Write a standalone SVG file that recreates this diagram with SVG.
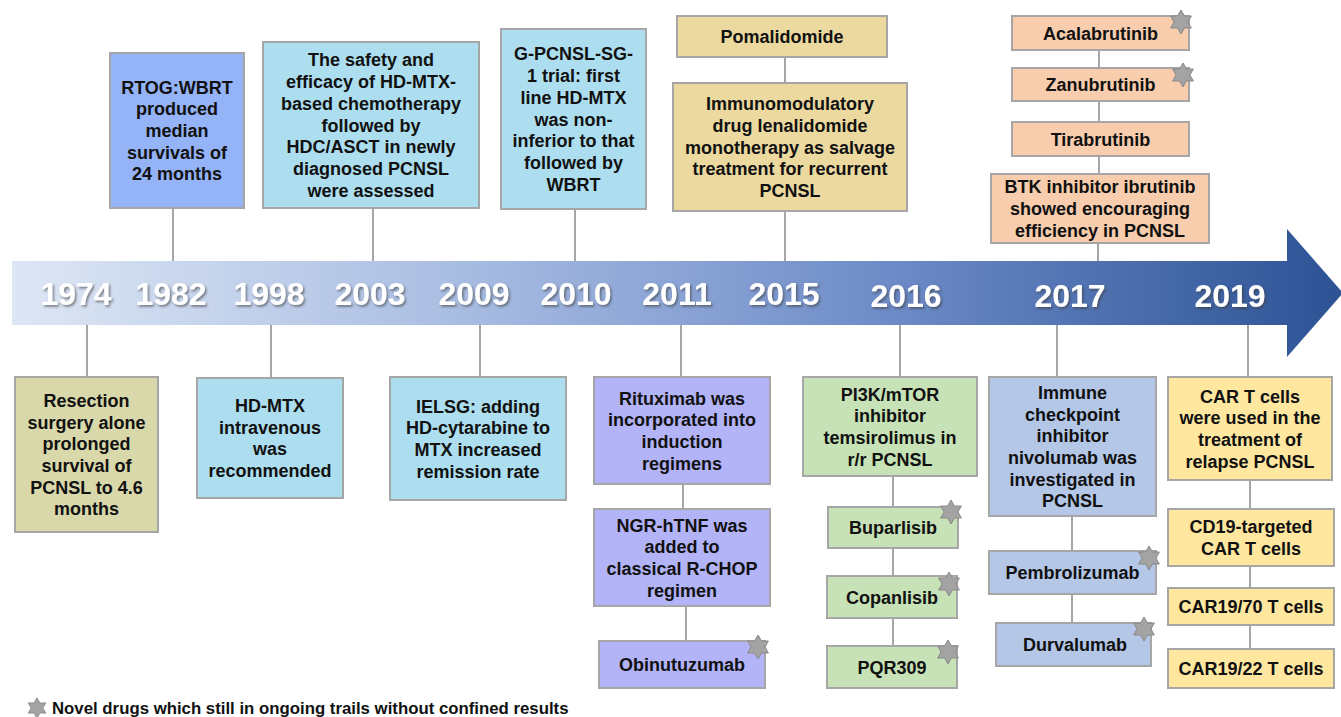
<svg xmlns="http://www.w3.org/2000/svg" xmlns:xlink="http://www.w3.org/1999/xlink" width="1341" height="717" viewBox="0 0 1341 717">
<defs>
<linearGradient id="axisGrad" x1="12" y1="0" x2="1341" y2="0" gradientUnits="userSpaceOnUse">
<stop offset="0" stop-color="#dde6f4"/>
<stop offset="0.33" stop-color="#aabee3"/>
<stop offset="0.66" stop-color="#6d8bc7"/>
<stop offset="1" stop-color="#2d5395"/>
</linearGradient>
<filter id="shadow" x="-10%" y="-20%" width="130%" height="150%">
<feDropShadow dx="1.5" dy="1.8" stdDeviation="1" flood-color="#3a3a3a" flood-opacity="0.6"/>
</filter>
<polygon id="star" points="0,-12 3.46,-6 10.39,-6 6.93,0 10.39,6 3.46,6 0,12 -3.46,6 -10.39,6 -6.93,0 -10.39,-6 -3.46,-6"/>
<style>
.box{stroke:#a6a6a6;stroke-width:2}
.t{font-family:"Liberation Sans",Arial,sans-serif;font-weight:bold;font-size:18px;fill:#111;text-anchor:middle}
.yr{font-family:"Liberation Sans",Arial,sans-serif;font-weight:bold;font-size:32px;fill:#ffffff;text-anchor:middle;filter:url(#shadow)}
.conn line{stroke:#a6a6a6;stroke-width:2}
.star{fill:#a3a3a3;stroke:#8a8a8a;stroke-width:1}
.blue{fill:#95b3f7}.lb{fill:#addeef}.tan{fill:#ecd9a0}.pch{fill:#f8cdad}.olv{fill:#d8d8aa}.lav{fill:#b3b3f8}.grn{fill:#c7e2b6}.stl{fill:#b4c7e7}.yel{fill:#ffe7a0}
</style>
</defs>
<rect width="1341" height="717" fill="#ffffff"/>

<g id="axis">
<polygon points="12,261 1287,261 1287,229 1343,293 1287,357 1287,325 12,325" fill="url(#axisGrad)"/>
<text class="yr" x="76" y="305">1974</text>
<text class="yr" x="171" y="305">1982</text>
<text class="yr" x="269" y="305">1998</text>
<text class="yr" x="370" y="305">2003</text>
<text class="yr" x="474" y="305">2009</text>
<text class="yr" x="576" y="305">2010</text>
<text class="yr" x="677" y="305">2011</text>
<text class="yr" x="784" y="305">2015</text>
<text class="yr" x="906" y="307">2016</text>
<text class="yr" x="1070" y="307">2017</text>
<text class="yr" x="1230" y="307">2019</text>
</g>

<g id="connectors" class="conn">
<line x1="173" y1="208" x2="173" y2="261"/>
<line x1="373" y1="208" x2="373" y2="261"/>
<line x1="575" y1="209" x2="575" y2="261"/>
<line x1="785" y1="57" x2="785" y2="83"/>
<line x1="785" y1="211" x2="785" y2="261"/>
<line x1="1099" y1="50" x2="1099" y2="68"/>
<line x1="1099" y1="101" x2="1099" y2="122"/>
<line x1="1099" y1="156" x2="1099" y2="174"/>
<line x1="1098" y1="243" x2="1098" y2="261"/>
<line x1="87" y1="325" x2="87" y2="377"/>
<line x1="271" y1="325" x2="271" y2="378"/>
<line x1="480" y1="325" x2="480" y2="377"/>
<line x1="681" y1="325" x2="681" y2="377"/>
<line x1="683" y1="484" x2="683" y2="509"/>
<line x1="686" y1="606" x2="686" y2="641"/>
<line x1="900" y1="325" x2="900" y2="377"/>
<line x1="893" y1="476" x2="893" y2="507"/>
<line x1="893" y1="548" x2="893" y2="576"/>
<line x1="893" y1="618" x2="893" y2="646"/>
<line x1="1057" y1="325" x2="1057" y2="377"/>
<line x1="1072" y1="516" x2="1072" y2="551"/>
<line x1="1072" y1="594" x2="1072" y2="623"/>
<line x1="1248" y1="325" x2="1248" y2="377"/>
<line x1="1250" y1="480" x2="1250" y2="509"/>
<line x1="1250" y1="566" x2="1250" y2="588"/>
<line x1="1250" y1="625" x2="1250" y2="649"/>
</g>

<g id="n-rtog"><rect class="box blue" x="110" y="53" width="134" height="155"/>
<text class="t" x="177"><tspan x="177" y="93.6">RTOG:WBRT</tspan><tspan x="177" y="115.3">produced</tspan><tspan x="177" y="137">median</tspan><tspan x="177" y="158.7">survivals of</tspan><tspan x="177" y="180.4">24 months</tspan></text></g>

<g id="n-hdc"><rect class="box lb" x="263" y="42" width="216" height="166"/>
<text class="t"><tspan x="371" y="66.4">The safety and</tspan><tspan x="371" y="88.1">efficacy of HD-MTX-</tspan><tspan x="371" y="109.8">based chemotherapy</tspan><tspan x="371" y="131.5">followed by</tspan><tspan x="371" y="153.2">HDC/ASCT in newly</tspan><tspan x="371" y="174.9">diagnosed PCNSL</tspan><tspan x="371" y="196.6">were assessed</tspan></text></g>

<g id="n-gpcnsl"><rect class="box lb" x="501" y="29" width="145" height="180"/>
<text class="t"><tspan x="573.5" y="60.4">G-PCNSL-SG-</tspan><tspan x="573.5" y="82.1">1 trial: first</tspan><tspan x="573.5" y="103.8">line HD-MTX</tspan><tspan x="573.5" y="125.5">was non-</tspan><tspan x="573.5" y="147.2">inferior to that</tspan><tspan x="573.5" y="168.9">followed by</tspan><tspan x="573.5" y="190.6">WBRT</tspan></text></g>

<g id="n-poma"><rect class="box tan" x="677" y="16" width="210" height="41"/>
<text class="t" x="782" y="43">Pomalidomide</text></g>

<g id="n-lena"><rect class="box tan" x="673" y="83" width="234" height="128"/>
<text class="t"><tspan x="790" y="110.1">Immunomodulatory</tspan><tspan x="790" y="131.8">drug lenalidomide</tspan><tspan x="790" y="153.5">monotherapy as salvage</tspan><tspan x="790" y="175.2">treatment for recurrent</tspan><tspan x="790" y="196.9">PCNSL</tspan></text></g>

<g id="n-acala"><rect class="box pch" x="1012" y="16" width="177" height="34"/>
<text class="t" x="1100.5" y="39.5">Acalabrutinib</text><use href="#star" class="star" x="1181" y="22"/></g>

<g id="n-zanu"><rect class="box pch" x="1012" y="68" width="177" height="33"/>
<text class="t" x="1100.5" y="91">Zanubrutinib</text><use href="#star" class="star" x="1183" y="75"/></g>

<g id="n-tira"><rect class="box pch" x="1012" y="122" width="177" height="34"/>
<text class="t" x="1100.5" y="145.5">Tirabrutinib</text></g>

<g id="n-btk"><rect class="box pch" x="991" y="174" width="218" height="69"/>
<text class="t"><tspan x="1100" y="193.3">BTK inhibitor ibrutinib</tspan><tspan x="1100" y="215">showed encouraging</tspan><tspan x="1100" y="236.7">efficiency in PCNSL</tspan></text></g>

<g id="n-resection"><rect class="box olv" x="15" y="377" width="143" height="155"/>
<text class="t"><tspan x="86.5" y="406.8">Resection</tspan><tspan x="86.5" y="428.5">surgery alone</tspan><tspan x="86.5" y="450.2">prolonged</tspan><tspan x="86.5" y="471.9">survival of</tspan><tspan x="86.5" y="493.6">PCNSL to 4.6</tspan><tspan x="86.5" y="515.3">months</tspan></text></g>

<g id="n-hdmtx"><rect class="box lb" x="197" y="378" width="146" height="120"/>
<text class="t"><tspan x="270" y="412">HD-MTX</tspan><tspan x="270" y="433.7">intravenous</tspan><tspan x="270" y="455.4">was</tspan><tspan x="270" y="477.1">recommended</tspan></text></g>

<g id="n-ielsg"><rect class="box lb" x="390" y="377" width="176" height="123"/>
<text class="t"><tspan x="478" y="412.5">IELSG: adding</tspan><tspan x="478" y="434.2">HD-cytarabine to</tspan><tspan x="478" y="455.9">MTX increased</tspan><tspan x="478" y="477.6">remission rate</tspan></text></g>

<g id="n-ritux"><rect class="box lav" x="594" y="377" width="176" height="107"/>
<text class="t"><tspan x="682" y="404.5">Rituximab was</tspan><tspan x="682" y="426.2">incorporated into</tspan><tspan x="682" y="447.9">induction</tspan><tspan x="682" y="469.6">regimens</tspan></text></g>

<g id="n-ngr"><rect class="box lav" x="594" y="509" width="176" height="97"/>
<text class="t"><tspan x="682" y="531.5">NGR-hTNF was</tspan><tspan x="682" y="553.2">added to</tspan><tspan x="682" y="574.9">classical R-CHOP</tspan><tspan x="682" y="596.6">regimen</tspan></text></g>

<g id="n-obinu"><rect class="box lav" x="599" y="641" width="166" height="47"/>
<text class="t" x="682" y="671">Obinutuzumab</text><use href="#star" class="star" x="758" y="647"/></g>

<g id="n-pi3k"><rect class="box grn" x="803" y="377" width="174" height="99"/>
<text class="t"><tspan x="890" y="400.5">PI3K/mTOR</tspan><tspan x="890" y="422.2">inhibitor</tspan><tspan x="890" y="443.9">temsirolimus in</tspan><tspan x="890" y="465.6">r/r PCNSL</tspan></text></g>

<g id="n-bupar"><rect class="box grn" x="828" y="507" width="130" height="41"/>
<text class="t" x="893" y="534">Buparlisib</text><use href="#star" class="star" x="951" y="512"/></g>

<g id="n-copan"><rect class="box grn" x="827" y="576" width="130" height="42"/>
<text class="t" x="892" y="603.5">Copanlisib</text><use href="#star" class="star" x="949" y="584"/></g>

<g id="n-pqr"><rect class="box grn" x="827" y="646" width="130" height="42"/>
<text class="t" x="892" y="673.5">PQR309</text><use href="#star" class="star" x="948" y="652"/></g>

<g id="n-immune"><rect class="box stl" x="989" y="377" width="167" height="139"/>
<text class="t"><tspan x="1072.5" y="398.8">Immune</tspan><tspan x="1072.5" y="420.5">checkpoint</tspan><tspan x="1072.5" y="442.2">inhibitor</tspan><tspan x="1072.5" y="463.9">nivolumab was</tspan><tspan x="1072.5" y="485.6">investigated in</tspan><tspan x="1072.5" y="507.3">PCNSL</tspan></text></g>

<g id="n-pembro"><rect class="box stl" x="989" y="551" width="167" height="43"/>
<text class="t" x="1072.5" y="579">Pembrolizumab</text><use href="#star" class="star" x="1149" y="558"/></g>

<g id="n-durva"><rect class="box stl" x="996" y="623" width="155" height="43"/>
<text class="t" x="1075" y="651">Durvalumab</text><use href="#star" class="star" x="1144" y="629"/></g>

<g id="n-cart"><rect class="box yel" x="1168" y="377" width="164" height="103"/>
<text class="t"><tspan x="1250" y="402.5">CAR T cells</tspan><tspan x="1250" y="424.2">were used in the</tspan><tspan x="1250" y="445.9">treatment of</tspan><tspan x="1250" y="467.6">relapse PCNSL</tspan></text></g>

<g id="n-cd19"><rect class="box yel" x="1168" y="509" width="166" height="57"/>
<text class="t"><tspan x="1251" y="533.2">CD19-targeted</tspan><tspan x="1251" y="554.9">CAR T cells</tspan></text></g>

<g id="n-car1970"><rect class="box yel" x="1168" y="588" width="166" height="37"/>
<text class="t" x="1251" y="613">CAR19/70 T cells</text></g>

<g id="n-car1922"><rect class="box yel" x="1168" y="649" width="166" height="39"/>
<text class="t" x="1251" y="675">CAR19/22 T cells</text></g>

<g id="legend">
<use href="#star" class="star" x="37" y="708" transform="translate(37 708) scale(0.85) translate(-37 -708)"/>
<text x="52" y="714" font-family="Liberation Sans, Arial, sans-serif" font-weight="bold" font-size="16.8" fill="#111">Novel drugs which still in ongoing trails without confined results</text>
</g>
</svg>
